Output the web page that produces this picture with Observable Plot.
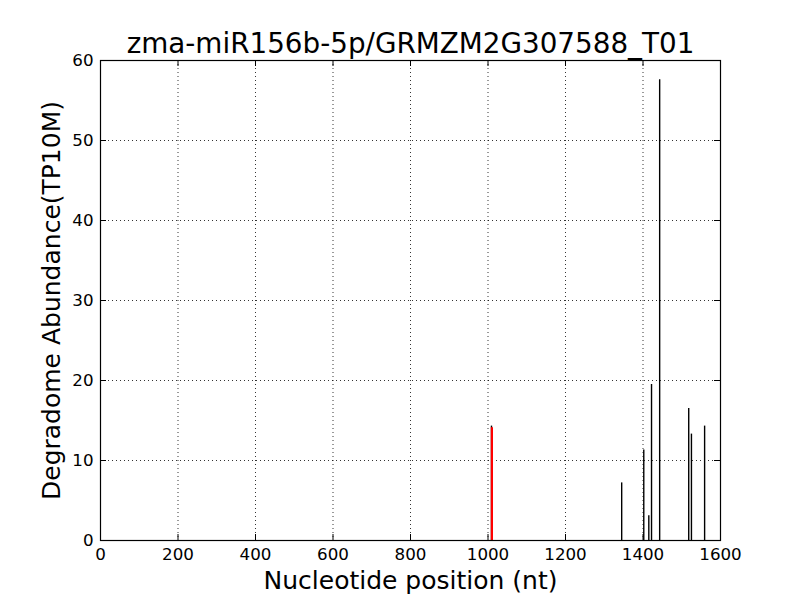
<!DOCTYPE html>
<html>
<head>
<meta charset="utf-8">
<script src="https://cdn.jsdelivr.net/npm/d3@7"></script>
<script src="https://cdn.jsdelivr.net/npm/@observablehq/plot@0.6"></script>
<style>
  html, body { margin: 0; padding: 0; background: #fff; }
  svg { display: block; }
</style>
</head>
<body>
<div id="chart"></div>
<script>
const title = "zma-miR156b-5p/GRMZM2G307588_T01";
const xLabel = "Nucleotide position (nt)";
const yLabel = "Degradome Abundance(TP10M)";

const positions = [1009, 1345, 1402, 1415, 1422, 1443, 1518, 1525, 1559];
const abundance = [14.3, 7.2, 11.3, 3.1, 19.5, 57.6, 16.5, 13.3, 14.3];

const targetPositions = [1010];
const targetAbundance = [14.1];

const xTicks = [0, 200, 400, 600, 800, 1000, 1200, 1400, 1600];
const yTicks = [0, 10, 20, 30, 40, 50, 60];

const reads = positions.map((p, i) => ({pos: p, val: abundance[i]}));
const target = targetPositions.map((p, i) => ({pos: p, val: targetAbundance[i]}));

const font = "DejaVu Sans, Liberation Sans, sans-serif";
const tickLen = 6;
const W = 800, H = 600, mt = 60, mr = 80, mb = 60, ml = 100;
const innerW = W - ml - mr, innerH = H - mt - mb;

const chart = Plot.plot({
  width: W,
  height: H,
  marginTop: mt,
  marginRight: mr,
  marginBottom: mb,
  marginLeft: ml,
  style: {fontFamily: font, background: "#fff", color: "#000", overflow: "visible"},
  x: {domain: [0, 1600]},
  y: {domain: [0, 60]},
  marks: [
    Plot.gridX(xTicks, {stroke: "#000", strokeOpacity: 1, strokeWidth: 0.8, strokeDasharray: "1,3"}),
    Plot.gridY(yTicks, {stroke: "#000", strokeOpacity: 1, strokeWidth: 0.8, strokeDasharray: "1,3"}),
    Plot.ruleX(reads, {x: "pos", y1: 0, y2: "val", stroke: "#000", strokeWidth: 1.4}),
    Plot.ruleX(target, {x: "pos", y1: 0, y2: "val", stroke: "#ff0000", strokeWidth: 2.2}),
    // inward ticks on all four sides
    Plot.tickX(xTicks, {x: d => d, insetTop: innerH - tickLen, stroke: "#000", strokeWidth: 1}),
    Plot.tickX(xTicks, {x: d => d, insetBottom: innerH - tickLen, stroke: "#000", strokeWidth: 1}),
    Plot.tickY(yTicks, {y: d => d, insetRight: innerW - tickLen, stroke: "#000", strokeWidth: 1}),
    Plot.tickY(yTicks, {y: d => d, insetLeft: innerW - tickLen, stroke: "#000", strokeWidth: 1}),
    Plot.frame({stroke: "#000", strokeWidth: 1.2}),
    Plot.axisX({ticks: xTicks, tickSize: 0, tickPadding: 8, fontSize: 16.7, label: null, tickFormat: d => String(d)}),
    Plot.axisY({ticks: yTicks, tickSize: 0, tickPadding: 7, fontSize: 16.7, label: null, tickFormat: d => String(d)}),
    Plot.text([title], {frameAnchor: "top", dy: -16, text: d => d, fontSize: 27.8, lineAnchor: "middle", textAnchor: "middle", fill: "#000"}),
    Plot.text([xLabel], {frameAnchor: "bottom", dy: 40, text: d => d, fontSize: 25, lineAnchor: "middle", textAnchor: "middle", fill: "#000"}),
    Plot.text([yLabel], {frameAnchor: "left", dx: -49, rotate: -90, text: d => d, fontSize: 25, lineAnchor: "middle", textAnchor: "middle", fill: "#000"})
  ]
});
document.getElementById("chart").appendChild(chart);
</script>
</body>
</html>
